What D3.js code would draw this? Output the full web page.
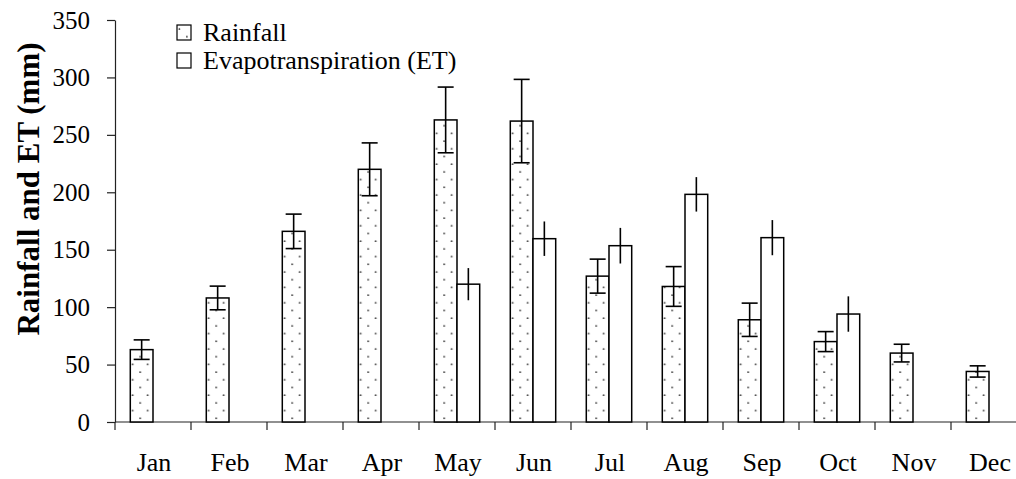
<!DOCTYPE html>
<html>
<head>
<meta charset="utf-8">
<script src="https://cdn.jsdelivr.net/npm/d3@7"></script>
<style>
    html, body { margin: 0; padding: 0; background: #fff; }
    svg { display: block; font-family: "Liberation Serif", "Times New Roman", serif; }
</style>
</head>
<body>
<svg id="chart" width="1016" height="479"></svg>
<script>
"use strict";

var months = ["Jan", "Feb", "Mar", "Apr", "May", "Jun", "Jul", "Aug", "Sep", "Oct", "Nov", "Dec"];
var rainfall    = [63, 108, 166, 220, 263, 262, 127, 118, 89, 70, 60, 44];
var rainfallErr = [8.5, 10.3, 15, 23, 28.6, 36.3, 14.8, 17.3, 14.5, 8.7, 7.7, 4.9];
var et    = [null, null, null, null, 120, 159.6, 153.5, 198.2, 160.5, 94, null, null];
var etErr = [null, null, null, null, 14, 15, 15.5, 15, 15.3, 15.4, null, null];
var yTicks = [0, 50, 100, 150, 200, 250, 300, 350];
var seriesNames = ["Rainfall", "Evapotranspiration (ET)"];

var FONT = "Liberation Serif, Times New Roman, serif";

var svg = d3.select("#chart");
var x0 = 115, x1 = 1027, yTop = 20, yBase = 422;

var x = d3.scaleBand().domain(months).range([x0, x1]).paddingInner(0).paddingOuter(0);
var xs = d3.scaleBand().domain(["rain", "et"]).range([0, x.bandwidth()]).paddingInner(0).paddingOuter(0.674);
var y = d3.scaleLinear().domain([0, 350]).range([yBase, yTop]);

// dotted fill for rainfall
var defs = svg.append("defs");
var pat = defs.append("pattern")
    .attr("id", "dots")
    .attr("patternUnits", "userSpaceOnUse")
    .attr("width", 15)
    .attr("height", 15.4);
pat.append("rect").attr("width", 15).attr("height", 15.4).attr("fill", "#fff");
pat.append("circle").attr("cx", 2.4).attr("cy", 4).attr("r", 0.9).attr("fill", "#333");
pat.append("circle").attr("cx", 9.9).attr("cy", 11.7).attr("r", 0.9).attr("fill", "#333");

var rows = months.map(function(m, i) {
    return {month: m, rain: rainfall[i], rainErr: rainfallErr[i], et: et[i], etErr: etErr[i]};
});

// y axis
var yAxis = svg.append("g")
    .attr("transform", "translate(" + x0 + ",0)")
    .call(d3.axisLeft(y).tickValues(yTicks).tickSize(8).tickPadding(17).tickSizeOuter(0));
yAxis.attr("font-family", FONT);
yAxis.select(".domain").attr("stroke", "#222").attr("stroke-width", 1.2);
yAxis.selectAll(".tick line").attr("stroke", "#222").attr("stroke-width", 1.2);
yAxis.selectAll(".tick text")
    .attr("font-family", FONT)
    .attr("font-size", 25)
    .attr("fill", "#000");

svg.append("text")
    .attr("transform", "translate(39," + 189 + ") rotate(-90)")
    .attr("text-anchor", "middle")
    .attr("font-family", FONT)
    .attr("font-weight", "bold")
    .attr("font-size", 31)
    .text("Rainfall and ET (mm)");

// x axis
var xAxis = svg.append("g").attr("font-family", FONT);
xAxis.append("line")
    .attr("x1", x0).attr("x2", x1)
    .attr("y1", yBase).attr("y2", yBase)
    .attr("stroke", "#222").attr("stroke-width", 1.2);
xAxis.selectAll(".xtick").data(months).enter()
    .append("line")
        .attr("class", "xtick")
        .attr("x1", function(d) { return x(d); })
        .attr("x2", function(d) { return x(d); })
        .attr("y1", yBase).attr("y2", yBase + 8)
        .attr("stroke", "#222").attr("stroke-width", 1.2);
xAxis.selectAll(".xlabel").data(months).enter()
    .append("text")
        .attr("class", "xlabel")
        .attr("x", function(d) { return x(d) + x.bandwidth() / 2 + 1; })
        .attr("y", 471)
        .attr("text-anchor", "middle")
        .attr("font-size", 26)
        .text(function(d) { return d; });

// rainfall bars (pattern anchored at each bar's bottom-left)
var bw = xs.bandwidth();
var rainG = svg.append("g").selectAll("g").data(rows).enter()
    .append("g")
        .attr("transform", function(d) { return "translate(" + (x(d.month) + xs("rain")) + "," + yBase + ")"; });
rainG.append("rect")
    .attr("x", 0)
    .attr("y", function(d) { return y(d.rain) - yBase; })
    .attr("width", bw)
    .attr("height", function(d) { return yBase - y(d.rain); })
    .attr("fill", "url(#dots)")
    .attr("stroke", "#000")
    .attr("stroke-width", 1.5);

// ET bars
var etRows = rows.filter(function(d) { return d.et != null; });
svg.append("g").selectAll("rect").data(etRows).enter()
    .append("rect")
        .attr("x", function(d) { return x(d.month) + xs("et"); })
        .attr("y", function(d) { return y(d.et); })
        .attr("width", bw)
        .attr("height", function(d) { return yBase - y(d.et); })
        .attr("fill", "#fff")
        .attr("stroke", "#000")
        .attr("stroke-width", 1.5);

// error bars: rainfall with caps, ET without
var errG = svg.append("g").attr("stroke", "#000").attr("stroke-width", 1.6);
rows.forEach(function(d) {
    var cx = x(d.month) + xs("rain") + bw / 2;
    errG.append("line").attr("x1", cx).attr("x2", cx)
        .attr("y1", y(d.rain + d.rainErr)).attr("y2", y(d.rain - d.rainErr));
    [d.rain + d.rainErr, d.rain - d.rainErr].forEach(function(v) {
        errG.append("line").attr("x1", cx - 8).attr("x2", cx + 8)
            .attr("y1", y(v)).attr("y2", y(v));
    });
});
etRows.forEach(function(d) {
    var cx = x(d.month) + xs("et") + bw / 2;
    errG.append("line").attr("x1", cx).attr("x2", cx)
        .attr("y1", y(d.et + d.etErr)).attr("y2", y(d.et - d.etErr));
});

// legend
var legend = svg.append("g").attr("transform", "translate(177,25)").attr("font-family", FONT);
var items = legend.selectAll(".legend-item").data(seriesNames).enter()
    .append("g")
        .attr("class", "legend-item")
        .attr("transform", function(d, i) { return "translate(0," + (i * 28) + ")"; });
items.append("rect")
    .attr("width", 14)
    .attr("height", 15)
    .attr("fill", function(d, i) { return i === 0 ? "url(#dots)" : "#fff"; })
    .attr("stroke", "#000")
    .attr("stroke-width", 1.2);
items.append("text")
    .attr("x", 26)
    .attr("y", 16)
    .attr("font-size", 26)
    .text(function(d) { return d; });
</script>
</body>
</html>
